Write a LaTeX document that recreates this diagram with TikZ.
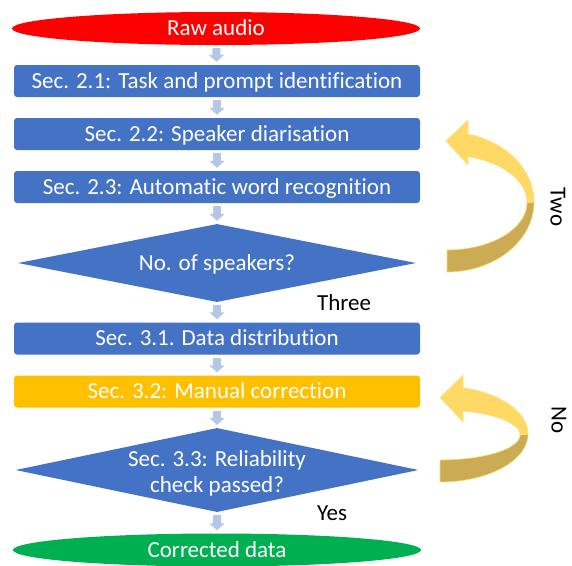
\documentclass[tikz,border=0pt]{standalone}
\usepackage{fontspec}
\setmainfont{Carlito}[Ligatures=NoCommon]
\usetikzlibrary{shapes.geometric,arrows.meta}
\definecolor{pblue}{HTML}{4472C4}
\definecolor{porange}{HTML}{FFC000}
\definecolor{pred}{HTML}{FF0000}
\definecolor{pgreen}{HTML}{00B050}
\definecolor{parrow}{HTML}{B4C7E7}
\definecolor{ylight}{HTML}{FFD966}
\definecolor{ydark}{HTML}{CCAB55}
\begin{document}
\begin{tikzpicture}[x=1pt,y=-1pt,
  every node/.style={font=\fontsize{23}{25}\selectfont},
  oneline/.style={text height=17pt, text depth=2.4pt},
  box/.style={rectangle, rounded corners=3pt, fill=pblue, text=white, minimum width=406pt, minimum height=32pt, inner sep=0pt, oneline},
  term/.style={ellipse, text=white, minimum width=408pt, minimum height=33pt, inner sep=0pt, oneline},
  decision/.style={diamond, fill=pblue, text=white, inner sep=0pt, align=center, aspect=5},
  flow/.style={draw=parrow, line width=8pt, -{Triangle[width=15pt,length=7pt]}, shorten <=3pt, shorten >=3pt},
  lbl/.style={text=black, inner sep=0pt, oneline},
  ribbonlight/.style={fill=ylight, draw=ylight!80!white, line width=0.6pt},
  ribbondark/.style={fill=ydark, draw=ylight, line width=0.6pt},
]
\useasboundingbox (0,0) rectangle (572,565);

\node[term, fill=pred] (raw) at (216,28.5) {Raw audio};
\node[box] (s21) at (217,81) {Sec. 2.1: Task and prompt identification};
\node[box] (s22) at (217,134) {Sec. 2.2: Speaker diarisation};
\node[box] (s23) at (217,187) {Sec. 2.3: Automatic word recognition};
\node[decision, oneline, minimum width=398pt, minimum height=78pt] (d1) at (217,263) {No. of speakers?};
\node[box] (s31) at (217,338.5) {Sec. 3.1. Data distribution};
\node[box, fill=porange] (s32) at (217,391.5) {Sec. 3.2: Manual correction};
\node[decision, font=\fontsize{23}{26.5}\selectfont, text height=45pt, text depth=0pt, minimum width=402pt, minimum height=84pt] (d2) at (217,470) {Sec. 3.3: Reliability\\check passed?};
\node[term, fill=pgreen] (out) at (217,550) {Corrected data};

\node[lbl] (three) at (344,303) {Three};
\node[lbl] (yes) at (332,513) {Yes};
\node[lbl, rotate=-90] (two) at (558,207) {Two};
\node[lbl, rotate=-90] (no) at (559,420) {No};

\draw[flow] (raw) -- (s21);
\draw[flow] (s21) -- (s22);
\draw[flow] (s22) -- (s23);
\draw[flow] (s23) -- (d1);
\draw[flow] (d1) -- (s31);
\draw[flow] (s31) -- (s32);
\draw[flow] (s32) -- (d2);
\draw[flow] (d2) -- (out);

% upper curved arrow (Two)
\filldraw[ribbondark] plot[domain=0:-90, samples=40] ({447+87*cos(\x)},{202-70*sin(\x)})
  -- plot[domain=-90:0, samples=40] ({447+80*cos(\x)},{202.5-47.5*sin(\x)}) -- cycle;
\filldraw[ribbonlight] (468,120) -- (446,141) -- (468,165)
  -- plot[domain=74.78:0, samples=40] ({447+80*cos(\x)},{202.5-47.5*sin(\x)})
  -- plot[domain=0:76.03, samples=40] ({447+87*cos(\x)},{202-70*sin(\x)}) -- cycle;

% lower curved arrow (No)
\filldraw[ribbondark] plot[domain=0:-90, samples=40] ({440+88*cos(\x)},{434-48*sin(\x)})
  -- plot[domain=-90:0, samples=40] ({440+80*cos(\x)},{435-25*sin(\x)}) -- cycle;
\filldraw[ribbonlight] (463,375) -- (440,397.5) -- (463,422)
  -- plot[domain=73.29:0, samples=40] ({440+80*cos(\x)},{435-25*sin(\x)})
  -- plot[domain=0:74.85, samples=40] ({440+88*cos(\x)},{434-48*sin(\x)}) -- cycle;
\end{tikzpicture}
\end{document}
